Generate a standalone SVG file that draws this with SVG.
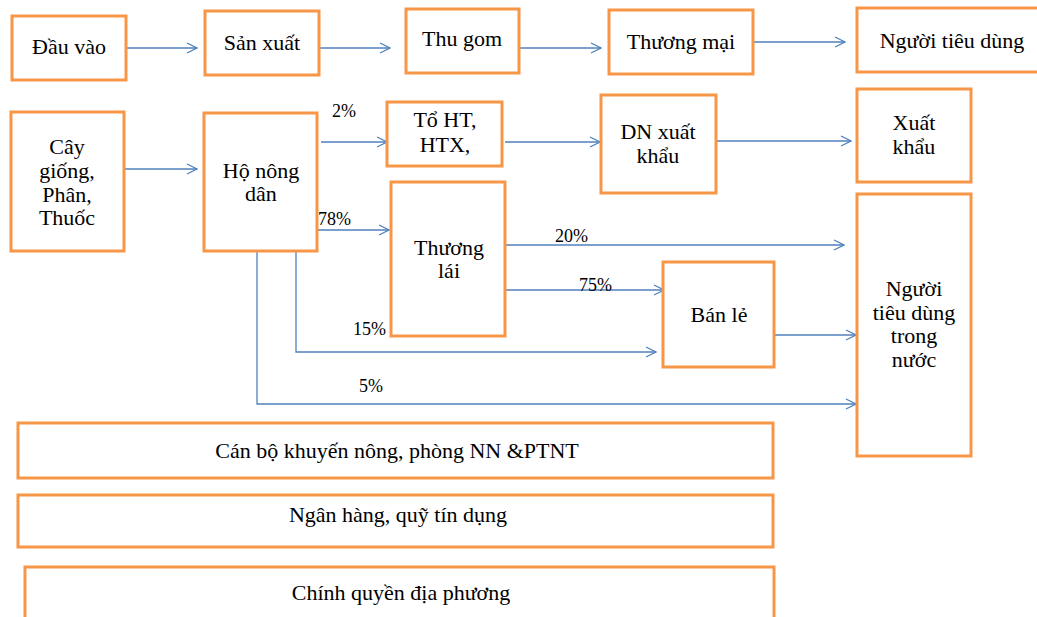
<svg xmlns="http://www.w3.org/2000/svg" width="1037" height="617" viewBox="0 0 1037 617">
<defs>
<style>
.box{fill:#fff;stroke:#F79646;stroke-width:3}
.t{font-family:'Liberation Serif','DejaVu Serif',serif;font-size:22px;fill:#000;text-anchor:middle}
.p{font-family:'Liberation Serif','DejaVu Serif',serif;font-size:18px;fill:#000}
.c{fill:none;stroke:#4F81BD;stroke-width:1.3;marker-end:url(#a)}
</style>
<marker id="a" viewBox="0 0 12 12" refX="11" refY="6" markerWidth="12" markerHeight="12" markerUnits="userSpaceOnUse" orient="auto">
<path d="M1,1 L11,6 L1,11" fill="none" stroke="#4F81BD" stroke-width="1.3"/>
</marker>
</defs>
<rect width="1037" height="617" fill="#fff"/>
<g id="connectors">
<path class="c" d="M126,48 H197"/>
<path class="c" d="M319,48 H390"/>
<path class="c" d="M520,48 H601"/>
<path class="c" d="M753,42 H845"/>
<path class="c" d="M124,169 H197"/>
<path class="c" d="M321,142 H387"/>
<path class="c" d="M505,142 H600"/>
<path class="c" d="M716,141 H851"/>
<path class="c" d="M317,230 H389"/>
<path class="c" d="M506,245 H844"/>
<path class="c" d="M506,290 H664"/>
<path class="c" d="M296,251 V352 H656"/>
<path class="c" d="M257,251 V404 H856"/>
<path class="c" d="M774,335 H856"/>
</g>
<g id="labels">
<text class="p" x="332" y="117">2%</text>
<text class="p" x="318" y="225">78%</text>
<text class="p" x="555" y="242">20%</text>
<text class="p" x="579" y="291">75%</text>
<text class="p" x="353" y="335">15%</text>
<text class="p" x="359" y="392">5%</text>
</g>
<g id="dau-vao"><rect class="box" x="12" y="16" width="114" height="64"/><text class="t" x="69" y="54">Đầu vào</text></g>
<g id="san-xuat"><rect class="box" x="205" y="11" width="114" height="64"/><text class="t" x="262" y="50">Sản xuất</text></g>
<g id="thu-gom"><rect class="box" x="406" y="9" width="113" height="64"/><text class="t" x="462" y="46">Thu gom</text></g>
<g id="thuong-mai"><rect class="box" x="609" y="10" width="144" height="64"/><text class="t" x="681" y="49">Thương mại</text></g>
<g id="nguoi-tieu-dung"><rect class="box" x="857" y="8" width="200" height="64"/><text class="t" x="952" y="48">Người tiêu dùng</text></g>
<g id="cay-giong"><rect class="box" x="11" y="112" width="113" height="139"/><text class="t" x="67" y="154">Cây</text><text class="t" x="67" y="178">giống,</text><text class="t" x="67" y="202">Phân,</text><text class="t" x="67" y="225">Thuốc</text></g>
<g id="ho-nong-dan"><rect class="box" x="204" y="113" width="113" height="138"/><text class="t" x="261" y="178">Hộ nông</text><text class="t" x="261" y="201">dân</text></g>
<g id="to-ht"><rect class="box" x="387" y="102" width="115" height="64"/><text class="t" x="445" y="127">Tổ HT,</text><text class="t" x="445" y="152">HTX,</text></g>
<g id="thuong-lai"><rect class="box" x="391" y="182" width="114" height="154"/><text class="t" x="449" y="255">Thương</text><text class="t" x="449" y="278">lái</text></g>
<g id="dn-xuat-khau"><rect class="box" x="601" y="95" width="115" height="98"/><text class="t" x="658" y="139">DN xuất</text><text class="t" x="658" y="163">khẩu</text></g>
<g id="xuat-khau"><rect class="box" x="857" y="89" width="114" height="93"/><text class="t" x="914" y="130">Xuất</text><text class="t" x="914" y="154">khẩu</text></g>
<g id="ban-le"><rect class="box" x="663" y="262" width="111" height="105"/><text class="t" x="719" y="322">Bán lẻ</text></g>
<g id="ntd-trong-nuoc"><rect class="box" x="857" y="194" width="114" height="262"/><text class="t" x="914" y="296">Người</text><text class="t" x="914" y="320">tiêu dùng</text><text class="t" x="914" y="343">trong</text><text class="t" x="914" y="367">nước</text></g>
<g id="can-bo"><rect class="box" x="18" y="423" width="755" height="55"/><text class="t" x="397" y="458">Cán bộ khuyến nông, phòng NN &amp;PTNT</text></g>
<g id="ngan-hang"><rect class="box" x="18" y="495" width="755" height="52"/><text class="t" x="398" y="522">Ngân hàng, quỹ tín dụng</text></g>
<g id="chinh-quyen"><rect class="box" x="25" y="567" width="749" height="70"/><text class="t" x="401" y="600">Chính quyền địa phương</text></g>
</svg>
